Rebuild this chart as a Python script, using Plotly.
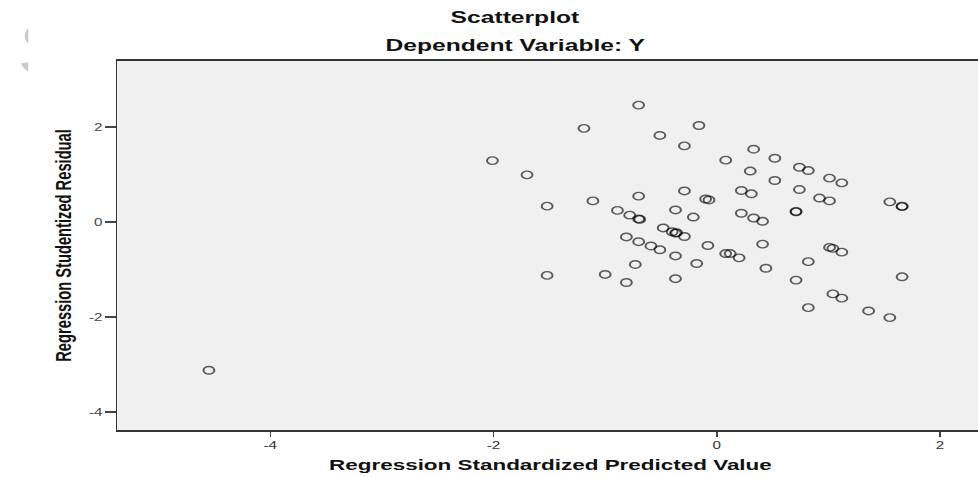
import plotly.graph_objects as go

# Regression standardized predicted values (x) and studentized residuals (y)
pred = [-4.55, -2.01, -1.70, -1.52, -1.52, -1.19, -1.11, -1.00, -0.89, -0.81,
        -0.81, -0.78, -0.70, -0.69, -0.70, -0.70, -0.73, -0.70, -0.59, -0.51,
        -0.51, -0.48, -0.40, -0.37, -0.36, -0.37, -0.37, -0.37, -0.29, -0.29,
        -0.29, -0.21, -0.18, -0.16, -0.10, -0.07, -0.08, 0.08, 0.08, 0.12,
        0.20, 0.22, 0.22, 0.31, 0.30, 0.33, 0.33, 0.41, 0.41, 0.44,
        0.52, 0.52, 0.71, 0.71, 0.71, 0.74, 0.74, 0.82, 0.82, 0.82,
        0.92, 1.01, 1.01, 1.01, 1.04, 1.04, 1.12, 1.12, 1.12, 1.36,
        1.55, 1.55, 1.66, 1.66, 1.66]
resid = [-3.12, 1.30, 1.00, 0.34, -1.12, 1.98, 0.45, -1.10, 0.25, -1.27,
         -0.31, 0.15, 0.07, 0.06, 2.47, 0.55, -0.89, -0.41, -0.50, -0.58,
         1.83, -0.12, -0.20, -0.23, -0.22, 0.26, -0.71, -1.19, -0.30, 1.61,
         0.66, 0.11, -0.87, 2.04, 0.49, 0.47, -0.49, 1.31, -0.66, -0.66,
         -0.75, 0.67, 0.19, 0.60, 1.08, 1.54, 0.09, 0.02, -0.46, -0.97,
         1.35, 0.88, 0.23, 0.22, -1.22, 1.16, 0.69, 1.09, -0.83, -1.80,
         0.51, 0.93, 0.45, -0.53, -0.55, -1.51, 0.83, -0.63, -1.60, -1.87,
         0.43, -2.01, 0.34, 0.33, -1.15]

x_ticks = [-4, -2, 0, 2]
y_ticks = [-4, -2, 0, 2]

# The reference is an SPSS chart that was stretched horizontally; the figure is
# laid out at its native width and stretched the same way when shown.
PAGE_W, H = 978, 477
W = 675
S = PAGE_W / W

ml, mr, mt, mb = 117 / S, 0, 61, 47
pw, ph = W - ml - mr, H - mt - mb


def px(page_x):
    return (page_x / S - ml) / pw


def py(page_y):
    return (H - mb - page_y) / ph


fig = go.Figure()
fig.add_trace(go.Scatter(
    x=pred, y=resid, mode="markers",
    marker=dict(symbol="circle-open", size=7.5,
                color="rgba(0,0,0,0.62)", line=dict(width=1.4, color="rgba(0,0,0,0.62)")),
    hoverinfo="x+y", showlegend=False))

font_main = "Liberation Sans, Arial, sans-serif"

fig.update_layout(
    width=W, height=H,
    margin=dict(l=ml, r=mr, t=mt, b=mb, pad=0),
    paper_bgcolor="white", plot_bgcolor="#f0f0f0",
    font=dict(family=font_main, color="#222"),
    xaxis=dict(range=[-5.37, 2.34], tickvals=x_ticks, ticktext=[str(v) for v in x_ticks],
               showgrid=False, zeroline=False, showline=True, linecolor="#333", linewidth=1.5,
               mirror=True, ticks="outside", ticklen=5, tickwidth=1.3, tickcolor="#444",
               tickfont=dict(size=10.5, color="#333", family=font_main)),
    yaxis=dict(range=[-4.38, 3.40], tickvals=y_ticks, ticktext=[str(v) for v in y_ticks],
               showgrid=False, zeroline=False, showline=True, linecolor="#333", linewidth=1.4,
               ticks="outside", ticklen=7, tickwidth=1.5, tickcolor="#444",
               tickfont=dict(size=10.5, color="#444", family=font_main)),
    annotations=[
        # faint watermark letter at the top-left corner, partly hidden
        dict(text="S", x=px(12), y=py(49), xref="paper", yref="paper", showarrow=False,
             font=dict(size=78, family=font_main, color="#cacaca"),
             xanchor="left", yanchor="middle"),
        dict(text=" ", x=px(27), y=py(49), xref="paper", yref="paper", showarrow=False,
             width=50, height=90, bgcolor="white", borderpad=0,
             font=dict(size=10), xanchor="left", yanchor="middle"),
        dict(text="<b>Scatterplot</b>", x=px(515), y=py(17), xref="paper", yref="paper",
             showarrow=False, font=dict(size=17, family=font_main, color="#111"),
             xanchor="center", yanchor="middle"),
        dict(text="<b>Dependent Variable: Y</b>", x=px(515), y=py(46), xref="paper", yref="paper",
             showarrow=False, font=dict(size=17, family=font_main, color="#111"),
             xanchor="center", yanchor="middle"),
        dict(text="<b>Regression Standardized Predicted Value</b>", x=px(550), y=py(464),
             xref="paper", yref="paper", showarrow=False,
             font=dict(size=15.5, family=font_main, color="#111"),
             xanchor="center", yanchor="middle"),
        dict(text="<b>Regression Studentized Residual</b>", x=px(63), y=py(245),
             xref="paper", yref="paper", showarrow=False, textangle=-90,
             font=dict(size=14.7, family=font_main, color="#111"),
             xanchor="center", yanchor="middle"),
    ],
)

post = (
    "document.body.style.margin='0';"
    "document.body.style.overflow='hidden';"
    "var gd=document.getElementById('{plot_id}');"
    "gd.style.transformOrigin='0 0';"
    "gd.style.transform='scaleX(%.5f)';" % S
)

fig.write_html("out.html", config={"displayModeBar": False}, post_script=post)
